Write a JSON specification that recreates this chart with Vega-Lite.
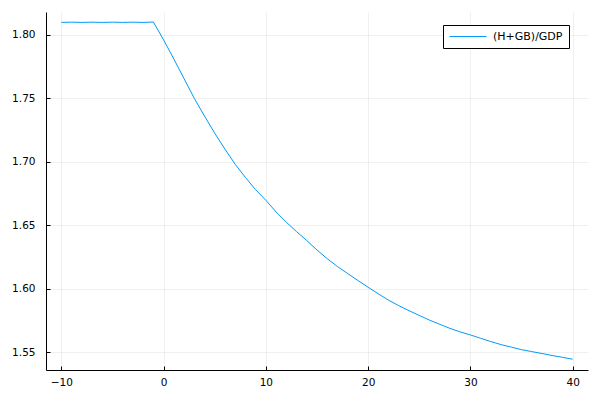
{
  "$schema": "https://vega.github.io/schema/vega-lite/v6.json",
  "width": 542,
  "height": 358,
  "autosize": {"type": "none"},
  "padding": {"left": 46, "top": 12, "right": 12, "bottom": 30},
  "background": "white",
  "config": {
    "view": {"stroke": null},
    "font": "DejaVu Sans",
    "axis": {
      "domainColor": "#000000",
      "domainWidth": 1,
      "gridColor": "#000000",
      "gridOpacity": 0.06,
      "gridWidth": 1,
      "tickColor": "#000000",
      "tickSize": -4,
      "labelFontSize": 10.5,
      "labelColor": "#000000",
      "labelFont": "DejaVu Sans",
      "title": null
    }
  },
  "data": {
    "values": [
      {"t": -10, "v": 1.8098, "s": "(H+GB)/GDP"},
      {"t": -9, "v": 1.8100, "s": "(H+GB)/GDP"},
      {"t": -8, "v": 1.8098, "s": "(H+GB)/GDP"},
      {"t": -7, "v": 1.8100, "s": "(H+GB)/GDP"},
      {"t": -6, "v": 1.8098, "s": "(H+GB)/GDP"},
      {"t": -5, "v": 1.8100, "s": "(H+GB)/GDP"},
      {"t": -4, "v": 1.8098, "s": "(H+GB)/GDP"},
      {"t": -3, "v": 1.8100, "s": "(H+GB)/GDP"},
      {"t": -2, "v": 1.8098, "s": "(H+GB)/GDP"},
      {"t": -1, "v": 1.8101, "s": "(H+GB)/GDP"},
      {"t": 0, "v": 1.7960, "s": "(H+GB)/GDP"},
      {"t": 1, "v": 1.7810, "s": "(H+GB)/GDP"},
      {"t": 2, "v": 1.7655, "s": "(H+GB)/GDP"},
      {"t": 3, "v": 1.7500, "s": "(H+GB)/GDP"},
      {"t": 4, "v": 1.7360, "s": "(H+GB)/GDP"},
      {"t": 5, "v": 1.7225, "s": "(H+GB)/GDP"},
      {"t": 6, "v": 1.7100, "s": "(H+GB)/GDP"},
      {"t": 7, "v": 1.6980, "s": "(H+GB)/GDP"},
      {"t": 8, "v": 1.6877, "s": "(H+GB)/GDP"},
      {"t": 9, "v": 1.6780, "s": "(H+GB)/GDP"},
      {"t": 10, "v": 1.6697, "s": "(H+GB)/GDP"},
      {"t": 11, "v": 1.6605, "s": "(H+GB)/GDP"},
      {"t": 12, "v": 1.6524, "s": "(H+GB)/GDP"},
      {"t": 13, "v": 1.6450, "s": "(H+GB)/GDP"},
      {"t": 14, "v": 1.6380, "s": "(H+GB)/GDP"},
      {"t": 15, "v": 1.6305, "s": "(H+GB)/GDP"},
      {"t": 16, "v": 1.6237, "s": "(H+GB)/GDP"},
      {"t": 17, "v": 1.6175, "s": "(H+GB)/GDP"},
      {"t": 18, "v": 1.6120, "s": "(H+GB)/GDP"},
      {"t": 19, "v": 1.6065, "s": "(H+GB)/GDP"},
      {"t": 20, "v": 1.6012, "s": "(H+GB)/GDP"},
      {"t": 21, "v": 1.5960, "s": "(H+GB)/GDP"},
      {"t": 22, "v": 1.5910, "s": "(H+GB)/GDP"},
      {"t": 23, "v": 1.5867, "s": "(H+GB)/GDP"},
      {"t": 24, "v": 1.5827, "s": "(H+GB)/GDP"},
      {"t": 25, "v": 1.5790, "s": "(H+GB)/GDP"},
      {"t": 26, "v": 1.5753, "s": "(H+GB)/GDP"},
      {"t": 27, "v": 1.5720, "s": "(H+GB)/GDP"},
      {"t": 28, "v": 1.5688, "s": "(H+GB)/GDP"},
      {"t": 29, "v": 1.5660, "s": "(H+GB)/GDP"},
      {"t": 30, "v": 1.5636, "s": "(H+GB)/GDP"},
      {"t": 31, "v": 1.5610, "s": "(H+GB)/GDP"},
      {"t": 32, "v": 1.5584, "s": "(H+GB)/GDP"},
      {"t": 33, "v": 1.5560, "s": "(H+GB)/GDP"},
      {"t": 34, "v": 1.5540, "s": "(H+GB)/GDP"},
      {"t": 35, "v": 1.5520, "s": "(H+GB)/GDP"},
      {"t": 36, "v": 1.5505, "s": "(H+GB)/GDP"},
      {"t": 37, "v": 1.5490, "s": "(H+GB)/GDP"},
      {"t": 38, "v": 1.5474, "s": "(H+GB)/GDP"},
      {"t": 39, "v": 1.5460, "s": "(H+GB)/GDP"},
      {"t": 40, "v": 1.5445, "s": "(H+GB)/GDP"}
    ]
  },
  "mark": {"type": "line", "strokeWidth": 1, "clip": true},
  "encoding": {
    "x": {
      "field": "t",
      "type": "quantitative",
      "scale": {"domain": [-11.5, 41.5], "nice": false, "zero": false},
      "axis": {"values": [-10, 0, 10, 20, 30, 40], "format": "d", "labelPadding": 11}
    },
    "y": {
      "field": "v",
      "type": "quantitative",
      "scale": {"domain": [1.536, 1.818], "nice": false, "zero": false},
      "axis": {"values": [1.55, 1.60, 1.65, 1.70, 1.75, 1.80], "format": ".2f", "labelPadding": 15}
    },
    "color": {
      "field": "s",
      "type": "nominal",
      "scale": {"range": ["#009AFA"]},
      "legend": {
        "title": null,
        "orient": "none",
        "legendX": 397,
        "legendY": 13,
        "symbolType": "M-1,0H6.4",
        "symbolSize": 100,
        "symbolStrokeWidth": 1,
        "labelOffset": 33,
        "labelFontSize": 11,
        "labelColor": "#000000",
        "labelFont": "DejaVu Sans",
        "padding": 6,
        "strokeColor": "#000000",
        "fillColor": "#ffffff"
      }
    }
  }
}
